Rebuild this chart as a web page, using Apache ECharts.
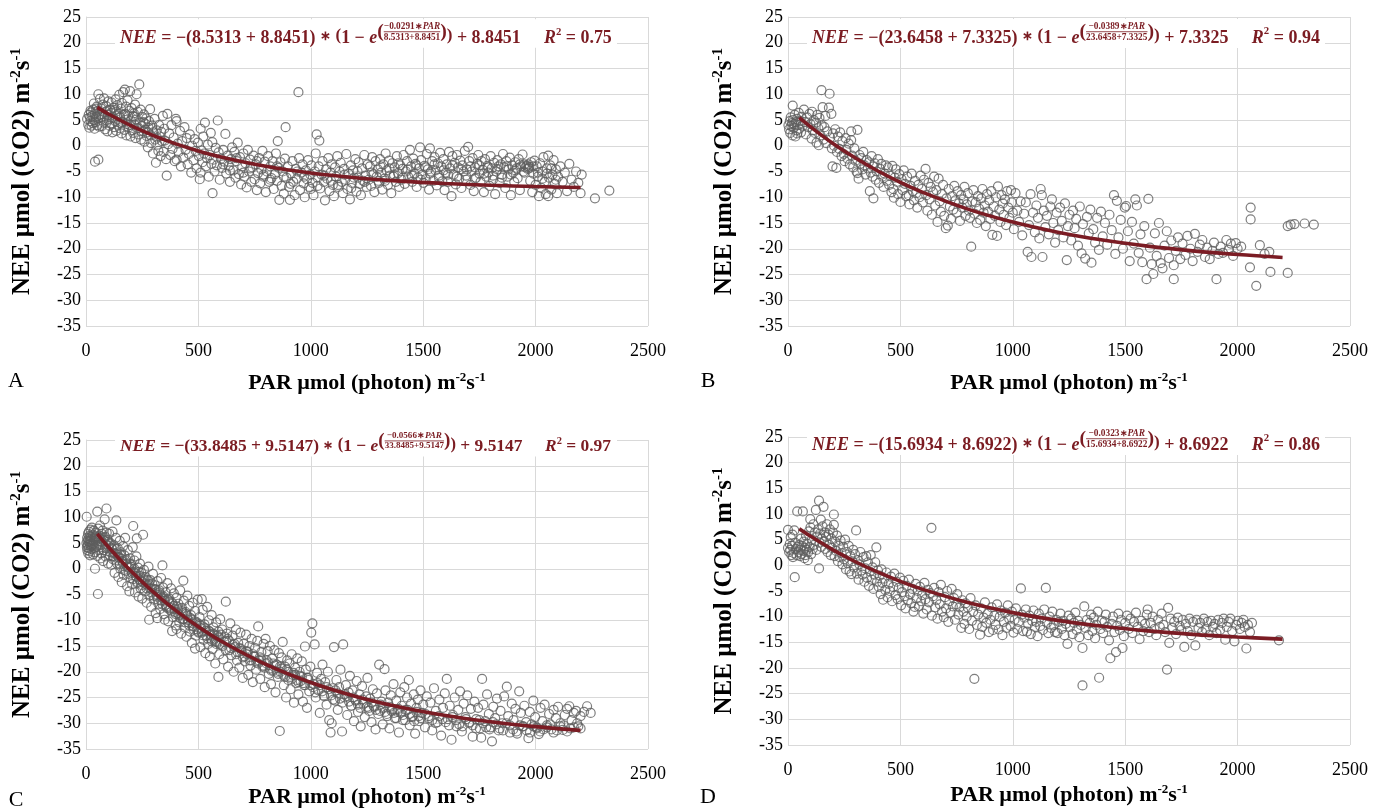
<!DOCTYPE html>
<html><head><meta charset="utf-8">
<script src="https://cdn.jsdelivr.net/npm/echarts@6/dist/echarts.min.js"></script>
<style>html,body{margin:0;padding:0;background:#fff}#c{width:1384px;height:810px}</style>
</head><body><div id="c"></div>
<script>
// ---------- DATA ----------
const xTickMin = 0, xTickMax = 2500, xTickStep = 500;
const yTickMin = -35, yTickMax = 25, yTickStep = 5;
const panelLetters = ['A', 'B', 'C', 'D'];
const xTitle = 'PAR µmol (photon) m{sup|-2}s{sup|-1}';
const yTitle = 'NEE µmol (CO2) m{sup|-2}s{sup|-1}';

// equation coefficients as printed
const eqA = {a: '8.5313', b: '8.8451', k: '0.0291', r2: '0.75'};
const eqB = {a: '23.6458', b: '7.3325', k: '0.0389', r2: '0.94'};
const eqC = {a: '33.8485', b: '9.5147', k: '0.0566', r2: '0.97'};
const eqD = {a: '15.6934', b: '8.6922', k: '0.0323', r2: '0.86'};

// fitted curves
const fitPar = [50, 100, 200, 300, 400, 500, 600, 800, 1000, 1200, 1400, 1600, 1800, 2000, 2200];
const fitA = [7.45, 6.17, 3.90, 1.98, 0.36, -1.01, -2.17, -3.98, -5.28, -6.20, -6.87, -7.34, -7.68, -7.92, -8.10];
const fitB = [5.45, 3.68, 0.45, -2.39, -4.90, -7.11, -9.06, -12.30, -14.82, -16.78, -18.31, -19.49, -20.41, -21.13, -21.69];
const fitC = [6.78, 4.21, -0.45, -4.54, -8.12, -11.27, -14.03, -18.59, -22.09, -24.79, -26.88, -28.48, -29.71, -30.66, -31.39];
const fitD = [7.13, 5.67, 3.02, 0.70, -1.34, -3.12, -4.68, -7.24, -9.21, -10.72, -11.88, -12.77, -13.45, -13.97, -14.37];

// observed points [PAR, NEE]
const obsA = [[5,5.2],[10,4.1],[12,6.0],[15,3.5],[18,5.5],[20,4.8],[22,6.5],[25,3.9],[28,5.8],[30,4.4],[32,7.0],[35,5.0],[38,3.3],[40,6.2],[42,4.6],[45,5.6],[48,7.6],[50,4.0],[52,6.8],[55,5.3],[58,3.7],[60,6.0],[40,-3.1],[55,-2.7],[55,10.0],[62,9.1],[35,8.2],
[65,5.0],[68,7.2],[70,3.8],[72,6.1],[75,8.0],[78,4.5],[80,9.2],[82,5.7],[85,3.2],[88,6.6],[90,7.7],[92,4.9],[95,2.8],[98,6.0],[100,8.6],[102,5.2],[105,3.9],[108,7.0],[110,4.3],[112,6.4],[114,8.4],[118,2.6],[120,5.6],[122,7.4],[125,3.6],[128,6.9],[130,4.8],[132,9.0],[135,2.9],[138,5.9],[140,7.9],[142,4.1],[145,6.3],[148,9.9],[150,3.4],
[152,5.5],[155,7.2],[158,2.4],[160,8.3],[162,4.6],[165,10.4],[168,6.0],[170,3.1],[173,10.9],[175,5.0],[178,7.6],[180,2.0],[183,4.2],[185,8.8],[188,5.7],[190,3.6],[193,6.8],[196,10.6],[198,1.8],[200,4.9],[203,7.3],[205,3.0],[208,5.8],[210,2.5],[213,6.3],[215,4.1],[218,8.0],[220,1.5],[222,5.1],[225,10.0],[228,3.4],[230,6.6],[233,2.2],[237,11.9],[240,4.5],[243,7.0],[245,1.2],[248,3.8],[250,5.6],[255,2.8],[258,6.1],[260,0.8],[263,4.3],[265,3.1],[268,5.3],[270,1.9],[275,-0.3],[278,3.5],[280,4.8],[285,7.1],[288,2.0],[290,0.5],[295,3.9],[298,-1.5],[300,2.6],[305,5.2],[308,1.2],[311,-3.3],[315,3.0],[318,0.2],[322,-1.0],[325,4.0],[328,1.8],[332,-2.0],[335,2.7],[338,0.9],[342,5.8],[345,-1.2],[348,3.3],[350,1.0],[356,-2.6],[359,-5.8],[362,6.2],[365,0.3],[370,2.4],[375,-1.8],[380,4.0],[385,-0.6],[390,1.6],[395,-3.0],[400,5.2],[403,4.8],[403,-2.7],[408,0.4],[412,-1.2],[418,2.9],[422,-4.0],[428,0.9],[433,-2.3],[438,3.6],[443,-0.8],[448,1.5],[452,-3.6],[458,-1.6],[462,2.2],[468,-5.2],[472,0.0],[478,-2.8],[483,1.3],[488,-1.0],[492,-4.4],[498,0.6],[502,-2.0],[506,-6.5],[510,3.3],[510,-5.2],[514,-0.9],[518,-3.2],[522,1.8],[526,-1.5],[529,4.5],[533,-4.0],[538,-2.4],[542,0.2],[546,-6.0],[550,-1.8],[555,2.5],[558,-3.5],[562,0.7],[563,-9.2],[567,-2.7],[572,-5.0],[577,-0.4],[582,-3.8],[586,4.9],[590,-1.3],[595,-6.6],[600,-2.5],[605,-4.3],[610,-0.8],[615,-3.1],[620,2.3],[624,-5.4],[630,-1.9],[635,-3.9],[640,-7.0],[645,-2.6],[650,-0.3],
[655,-4.8],[660,-1.2],[665,-6.2],[670,-3.0],[675,0.6],[680,-5.5],[685,-2.2],[690,-7.5],[695,-4.0],[700,-1.5],[705,-6.0],[710,-3.4],[715,-8.1],[720,-0.8],[725,-5.0],[730,-2.7],[735,-7.0],[740,-4.2],[745,-1.9],[750,-6.5],[755,-3.6],[760,-8.6],[765,-5.3],[770,-2.4],[775,-7.3],[780,-4.6],[785,-1.0],[790,-6.0],[795,-3.1],[800,-9.0],[805,-5.0],[810,-2.0],[815,-7.0],[820,-4.0],[825,-6.3],[830,-3.0],[835,-8.4],[840,-5.5],[845,-1.5],[850,-6.8],[853,0.9],[858,-4.3],[860,-10.5],[865,-3.2],[870,-7.8],[875,-5.0],[880,-9.3],[885,-2.5],[888,3.6],[892,-6.2],[898,-4.0],[903,-8.0],[907,-10.5],[912,-5.4],[918,-3.0],[922,-7.0],[928,-9.6],[933,-4.5],[938,-6.4],[945,10.4],[948,-2.4],[952,-8.6],[958,-5.2],[963,-3.6],[968,-7.3],[973,-10.0],[978,-4.8],[983,-6.5],[988,-2.8],[993,-8.0],[998,-5.6],
[1003,-3.8],[1008,-7.2],[1012,-9.6],[1018,-5.0],[1022,-1.5],[1026,2.2],[1030,-6.2],[1035,-4.0],[1038,1.0],[1042,-8.3],[1048,-5.6],[1052,-3.0],[1058,-7.0],[1063,-10.6],[1068,-4.6],[1073,-6.4],[1078,-2.4],[1083,-8.8],[1088,-5.2],[1093,-3.6],[1098,-7.6],[1103,-9.8],[1108,-4.2],[1113,-6.0],[1118,-2.0],[1123,-8.0],[1128,-5.0],[1133,-3.3],[1138,-7.0],[1143,-9.2],[1148,-4.5],[1153,-6.6],[1158,-1.6],[1163,-8.4],[1168,-5.4],[1174,-10.4],[1178,-3.8],[1183,-7.2],[1188,-4.8],[1193,-6.2],[1198,-2.6],[1203,-8.9],[1208,-5.0],[1213,-3.2],[1218,-7.4],[1223,-9.6],[1228,-4.4],[1233,-6.8],[1238,-1.8],[1243,-5.8],[1248,-8.0],[1253,-3.6],[1258,-6.6],[1263,-4.0],[1268,-7.8],[1273,-2.2],[1278,-5.5],[1283,-9.0],[1288,-3.0],[1293,-6.0],[1298,-4.6],
[1303,-7.2],[1308,-2.6],[1313,-5.2],[1318,-8.5],[1323,-3.6],[1328,-6.4],[1333,-1.5],[1338,-4.8],[1343,-7.6],[1348,-2.9],[1353,-5.8],[1358,-9.2],[1363,-3.4],[1368,-6.0],[1373,-4.2],[1378,-7.0],[1383,-2.0],[1388,-5.3],[1393,-8.0],[1398,-3.8],[1403,-6.6],[1408,-4.5],[1413,-1.8],[1418,-7.4],[1423,-5.0],[1428,-3.0],[1433,-6.0],[1441,-0.8],[1446,-4.0],[1451,-7.0],[1456,-2.5],[1461,-5.4],[1466,-3.5],[1471,-8.0],[1476,-6.2],[1481,-4.4],[1486,-0.3],[1491,-2.8],[1496,-5.6],[1501,-7.2],[1506,-3.9],[1511,-6.5],[1516,-1.6],[1521,-4.6],[1526,-8.5],[1530,-0.5],[1535,-5.0],[1540,-3.0],[1545,-6.8],[1550,-2.2],[1555,-4.8],[1560,-7.7],[1565,-3.4],[1570,-5.8],[1575,-1.4],[1580,-4.0],[1585,-6.9],[1590,-2.6],[1595,-8.6],[1600,-5.2],[1605,-3.6],[1610,-7.0],[1615,-1.2],[1620,-4.4],[1626,-9.8],[1630,-2.0],[1635,-5.6],[1640,-3.3],[1645,-7.5],[1650,-1.8],[1655,-4.2],[1660,-6.4],[1665,-2.9],[1670,-8.2],[1675,-3.8],[1680,-5.0],[1685,-1.0],[1690,-6.6],[1695,-4.6],[1700,-0.2],
[1705,-3.0],[1710,-7.6],[1715,-5.0],[1720,-2.4],[1725,-8.8],[1730,-4.2],[1735,-6.2],[1740,-3.5],[1745,-1.8],[1750,-5.4],[1755,-7.0],[1760,-3.0],[1765,-4.7],[1770,-9.0],[1775,-2.6],[1780,-6.0],[1785,-3.9],[1790,-5.2],[1795,-7.8],[1800,-2.0],[1805,-4.4],[1810,-6.6],[1815,-3.3],[1820,-9.4],[1825,-5.0],[1830,-2.8],[1835,-4.0],[1840,-7.2],[1845,-3.6],[1850,-5.6],[1855,-1.6],[1860,-4.2],[1865,-8.2],[1870,-3.0],[1875,-6.0],[1880,-4.6],[1885,-2.3],[1890,-9.6],[1895,-3.8],[1900,-5.2],[1905,-7.0],[1910,-3.2],[1915,-4.4],[1920,-6.3],[1925,-2.6],[1930,-8.6],[1935,-4.0],[1942,-1.7],[1946,-5.0],[1950,-3.6],[1955,-4.2],[1960,-3.9],[1965,-4.5],[1968,-3.6],[1972,-4.1],[1976,-6.8],[1980,-3.2],[1985,-9.0],[1990,-5.4],[1995,-2.9],[2000,-7.6],[2005,-4.0],[2010,-6.0],[2015,-9.8],[2020,-3.4],[2025,-8.2],[2030,-5.0],[2035,-2.2],[2040,-7.0],[2045,-9.4],[2050,-4.4],[2056,-1.9],[2056,-9.8],[2060,-6.2],[2065,-3.8],[2070,-8.5],[2075,-5.6],[2080,-2.8],[2085,-7.4],[2090,-4.6],[2095,-9.2],[2100,-6.0],
[2110,-4.0],[2120,-7.0],[2130,-5.2],[2140,-8.8],[2150,-3.5],[2160,-6.6],[2170,-8.0],[2180,-5.0],[2190,-7.2],[2200,-9.2],[2205,-5.6],[2264,-10.2],[2328,-8.7],
[20,6.8],[45,7.2],[70,5.6],[95,6.8],[115,5.4],[135,6.6],[155,4.4],[175,6.2],[195,4.0],[215,5.6],[235,3.4],[255,4.6],[275,2.6],[295,3.4],[315,1.6],
[610,-3.6],[640,-4.8],[670,-2.4],[700,-5.2],[730,-4.4],[760,-3.0],[790,-5.6],[820,-6.6],[850,-4.0],[880,-6.0],[910,-7.4],[940,-5.0],[970,-6.0],[1000,-8.4],[1030,-7.8],[1060,-5.8],[1090,-6.8],[1120,-7.6],[1150,-5.6],[1180,-8.2],[1210,-6.2],[1240,-7.0],[1270,-5.2],[1300,-6.8],
[1310,-4.0],[1330,-6.8],[1350,-4.4],[1370,-5.6],[1390,-3.4],[1410,-6.2],[1430,-4.6],[1450,-5.8],[1470,-3.8],[1490,-6.6],[1510,-4.2],[1530,-5.4],[1550,-3.6],[1570,-6.2],[1590,-4.8],[1610,-5.6],[1630,-3.8],[1650,-6.0],[1670,-4.6],[1690,-5.8],[1710,-4.0],[1730,-6.4],[1750,-3.8],[1770,-5.4],[1790,-4.2],[1810,-5.8],[1830,-4.6],[1850,-6.2],[1870,-4.0],[1890,-5.6],[1910,-4.8],[1930,-3.6],[1950,-5.2],[1970,-4.4],[1990,-4.0],[2010,-5.2],[2030,-6.4],[2050,-5.4],[2070,-4.4],[2090,-6.6]];

const obsB = [[2,4.0],[5,3.2],[8,4.8],[10,2.5],[12,5.5],[15,3.8],[18,4.4],[20,2.0],[21,7.8],[22,5.0],[25,3.5],[28,4.2],[30,6.0],[33,1.8],[35,4.6],[38,3.0],[40,5.2],[41,2.4],[45,4.0],[48,6.4],[50,3.3],[55,4.8],[58,2.6],[60,5.6],
[65,3.9],[71,7.0],[75,4.6],[80,2.2],[85,5.5],[90,3.6],[95,6.2],[100,4.2],[105,1.4],[107,6.6],[110,3.0],[115,5.0],[120,2.5],[125,4.5],[127,0.6],[130,6.0],[135,3.4],[137,0.1],[140,5.4],[145,2.0],[149,10.8],[150,4.0],[154,7.5],[158,1.2],[162,3.6],[166,5.8],[170,0.5],[175,2.8],[182,7.4],[185,10.1],[188,1.6],[193,6.2],[195,-0.5],[198,-4.0],[200,2.4],
[205,0.0],[210,3.2],[215,-4.3],[218,-1.2],[222,1.8],[228,-0.6],[232,2.6],[238,-2.0],[242,0.9],[248,-1.6],[252,-3.0],[256,1.5],[260,-0.8],[265,-2.5],[270,0.4],[275,-3.6],[281,2.8],[281,1.1],[285,-1.9],[290,-4.2],[295,-0.5],[300,-2.9],[305,-5.0],[309,3.1],[309,-5.3],[314,-6.4],[318,-1.8],[322,-3.5],[326,-2.4],[330,-4.6],[335,-1.2],[340,-3.8],[345,-5.6],[350,-2.8],[355,-4.4],[360,-3.2],[364,-8.8],[368,-5.2],[372,-2.0],[376,-6.0],[380,-10.2],[380,-4.0],[385,-3.4],[390,-6.6],[395,-5.0],[400,-2.6],[405,-7.2],[410,-4.5],[415,-3.5],[420,-6.0],[425,-8.0],[430,-5.4],[435,-3.8],[440,-6.8],[445,-4.2],[450,-7.6],[455,-5.8],[460,-9.0],[464,-3.9],[468,-8.4],[471,-10.1],[475,-6.2],[480,-4.6],[485,-7.0],[490,-9.4],[495,-5.5],[500,-10.9],
[505,-6.5],[510,-8.6],[515,-4.8],[520,-7.4],[525,-9.8],[530,-6.0],[537,-9.6],[540,-11.4],[545,-7.8],[550,-5.4],[555,-8.8],[560,-10.6],[565,-6.8],[570,-9.2],[575,-12.0],[580,-7.6],[585,-10.0],[590,-5.8],[595,-8.4],[600,-11.0],[605,-6.6],[612,-4.5],[615,-9.6],[620,-12.6],[625,-7.2],[630,-10.4],[635,-8.0],[640,-13.4],[645,-9.0],[650,-6.0],[655,-11.6],[660,-8.6],[665,-14.8],[670,-6.4],[675,-10.8],[680,-12.8],[685,-9.4],[690,-7.6],[695,-13.6],[702,-16.0],[705,-10.2],[711,-15.5],[715,-8.4],[720,-11.8],[725,-14.2],[730,-9.8],[735,-12.4],[740,-7.8],[745,-10.6],[750,-13.0],[755,-8.8],[760,-11.2],[765,-14.6],[770,-9.6],[775,-12.0],[780,-10.4],[785,-8.0],[790,-13.6],[795,-11.4],[800,-9.2],[805,-12.6],[810,-14.0],[815,-19.6],[820,-10.8],[825,-8.6],[830,-13.2],[835,-11.0],[840,-15.0],[845,-9.8],[850,-12.2],[855,-14.4],[860,-10.2],[865,-8.4],[870,-13.0],[875,-11.6],[880,-15.6],[885,-9.4],[890,-12.8],[895,-10.6],[900,-14.2],[905,-8.8],[909,-17.3],[915,-11.8],[920,-13.6],[925,-10.0],[930,-17.5],[934,-7.9],[940,-12.4],[945,-14.8],[950,-9.6],[955,-11.2],[960,-13.4],[965,-10.4],[970,-15.4],[975,-8.8],[980,-12.0],[985,-14.0],[992,-8.6],[995,-11.0],[1000,-13.0],
[1005,-16.2],[1012,-9.2],[1020,-12.6],[1028,-14.8],[1035,-10.8],[1042,-17.4],[1050,-13.2],[1058,-11.0],[1066,-20.6],[1072,-15.4],[1079,-9.4],[1083,-21.6],[1090,-13.0],[1098,-16.8],[1105,-11.6],[1112,-14.0],[1118,-18.0],[1124,-8.4],[1129,-9.6],[1132,-21.6],[1138,-12.6],[1145,-15.8],[1152,-13.6],[1160,-17.2],[1167,-11.8],[1174,-10.4],[1180,-15.0],[1188,-18.8],[1195,-13.0],[1202,-16.4],[1210,-12.0],[1218,-14.6],[1225,-17.8],[1232,-11.2],[1240,-22.2],[1245,-15.6],[1252,-13.4],[1260,-18.4],[1268,-12.6],[1275,-16.0],[1282,-14.2],[1290,-19.4],[1298,-11.8],[1306,-20.9],[1312,-15.2],[1322,-21.9],[1330,-13.8],[1338,-17.0],[1345,-12.4],[1350,-22.7],[1358,-16.2],[1366,-18.8],[1375,-14.0],[1383,-20.2],[1392,-12.8],[1400,-17.6],[1410,-15.0],[1420,-19.2],[1430,-13.4],[1440,-16.4],[1450,-9.6],[1456,-21.0],[1463,-10.7],[1470,-17.8],[1480,-14.4],[1490,-20.0],[1498,-12.0],[1504,-11.7],
[1512,-16.6],[1520,-22.4],[1530,-14.8],[1538,-19.0],[1545,-10.4],[1552,-11.6],[1560,-20.8],[1568,-17.2],[1576,-22.6],[1585,-15.6],[1595,-25.9],[1603,-10.3],[1610,-19.8],[1618,-23.0],[1625,-24.9],[1632,-17.0],[1640,-21.4],[1650,-15.0],[1658,-22.8],[1666,-23.8],[1675,-19.4],[1685,-16.6],[1695,-21.8],[1705,-18.4],[1716,-25.9],[1716,-23.2],[1725,-20.4],[1735,-17.8],[1745,-22.0],[1755,-19.0],[1768,-21.2],[1777,-17.5],[1790,-20.0],[1800,-22.4],[1810,-17.1],[1822,-20.6],[1832,-19.2],[1843,-18.3],[1855,-21.6],[1865,-19.8],[1876,-22.0],[1888,-20.4],[1895,-18.8],[1906,-25.9],[1915,-21.0],[1925,-19.6],[1935,-20.8],[1950,-18.3],[1960,-20.2],[1970,-19.0],[1980,-21.4],[1992,-18.9],[2000,-20.0],[2016,-19.6],
[2055,-23.6],[2058,-12.0],[2058,-14.3],[2083,-27.2],[2099,-19.3],[2120,-21.0],[2141,-20.6],[2146,-24.5],[2223,-24.7],[2223,-15.6],[2236,-15.3],[2253,-15.2],[2298,-15.1],[2339,-15.3]];

const obsC = [[2,5.0],[3,10.1],[4,4.2],[5,6.0],[6,3.6],[7,5.4],[8,4.6],[9,6.8],[10,3.0],[11,5.8],[12,4.0],[13,7.2],[14,5.2],[15,3.4],[16,6.4],[17,4.8],[18,2.6],[19,5.6],[20,7.6],[21,4.4],[22,6.2],[24,3.8],[25,5.0],[26,8.0],[28,4.5],[30,6.6],[32,2.8],[34,5.4],[35,7.4],[36,4.0],[38,6.0],[40,0.0],[40,3.2],[42,5.5],[44,7.0],[46,4.3],[48,6.3],[50,11.1],[50,2.5],[52,5.0],[53,-4.9],[54,7.8],[56,3.6],[58,6.0],[60,4.6],[62,8.4],[64,2.0],[66,5.4],[68,3.0],[70,6.8],[72,4.2],[74,7.4],[76,1.5],[78,5.6],[80,3.6],[83,9.6],[85,6.2],[87,2.4],[89,4.8],[91,11.7],[92,7.0],[94,3.4],[96,5.6],[98,1.0],[100,4.4],
[103,6.8],[106,2.6],[109,5.0],[112,0.8],[115,3.8],[118,7.2],[121,1.8],[124,4.6],[127,-0.8],[130,3.0],[133,6.0],[135,9.4],[138,1.0],[141,4.0],[144,-1.6],[147,2.2],[150,5.4],[153,0.0],[156,3.2],[159,-2.6],[162,1.4],[165,4.4],[168,-1.2],[171,2.6],[174,6.0],[177,-0.4],[180,1.8],[183,-3.4],[186,3.6],[189,0.4],[193,-4.4],[196,2.0],[199,-1.8],[202,0.8],[205,-3.0],[208,4.2],[210,8.3],[212,-0.6],[215,1.6],[218,-4.6],[221,-1.4],[224,2.4],[226,5.9],[228,-2.8],[231,0.2],[234,-5.4],[237,-2.0],[240,1.0],[243,-3.8],[246,-0.8],[250,-5.8],[254,6.6],[254,-2.6],[258,-0.2],[262,-4.4],[266,-1.6],[270,-6.6],[274,-3.2],[278,0.4],[281,-9.9],[282,-5.2],[286,-2.2],[290,-7.4],[294,-4.0],[298,-1.0],
[302,-6.0],[306,-3.2],[310,-8.6],[314,-5.0],[317,-9.6],[318,-2.4],[322,-6.8],[326,-4.2],[330,-7.8],[334,-1.8],[338,-5.6],[340,0.65],[342,-3.6],[346,-8.8],[350,-9.9],[350,-6.2],[354,-4.6],[358,-7.4],[362,-2.8],[366,-10.2],[370,-5.8],[374,-8.0],[378,-3.8],[383,-12.1],[383,-6.6],[387,-9.4],[391,-4.8],[395,-7.8],[399,-11.0],[403,-11.7],[403,-5.6],[407,-8.6],[411,-6.8],[415,-10.4],[419,-4.2],[423,-12.6],[427,-7.6],[431,-9.8],[433,-2.3],[435,-6.2],[439,-11.4],[443,-8.4],[447,-13.2],[451,-5.2],[455,-10.0],[459,-7.2],[463,-12.2],[467,-9.0],[471,-14.4],[475,-6.6],[479,-11.2],[485,-15.5],[485,-8.2],[489,-13.0],[493,-10.4],[497,-6.0],[501,-12.4],[505,-9.4],[509,-15.2],[513,-11.6],[515,-5.9],[519,-8.0],[523,-13.8],[527,-10.8],[531,-16.4],[535,-12.0],[539,-7.4],[543,-14.6],[547,-10.0],[551,-17.0],[555,-12.8],[559,-9.0],[563,-15.6],[567,-11.4],[571,-13.6],[575,-18.4],[579,-10.4],[583,-14.2],[589,-21.0],[589,-12.2],[593,-16.6],[597,-9.8],
[601,-14.8],[606,-11.8],[611,-17.6],[616,-13.2],[622,-6.4],[622,-15.8],[627,-12.6],[632,-19.0],[637,-14.0],[642,-10.6],[647,-16.8],[652,-13.0],[657,-20.0],[662,-15.2],[667,-11.8],[672,-17.8],[677,-14.4],[682,-19.2],[687,-12.4],[692,-16.0],[697,-21.2],[702,-14.6],[707,-18.0],[712,-12.8],[717,-16.6],[722,-20.6],[727,-15.0],[732,-18.8],[737,-13.6],[742,-22.0],[747,-17.0],[752,-15.4],[757,-19.6],[762,-14.0],[766,-11.2],[770,-17.8],[775,-21.4],[780,-16.2],[785,-19.0],[790,-14.6],[795,-23.0],[799,-13.6],[803,-18.4],[808,-16.0],[813,-20.4],[818,-15.0],[823,-22.4],[828,-17.4],[833,-19.8],[838,-15.8],[843,-24.0],[848,-18.6],[853,-21.0],[858,-16.4],[862,-31.5],[865,-20.0],[870,-17.2],[875,-14.2],[880,-22.6],[885,-19.0],[890,-25.0],[895,-17.8],[900,-21.6],[905,-18.4],[910,-23.4],[915,-16.6],[920,-20.6],[925,-26.0],[930,-19.2],[935,-22.2],[940,-17.4],[945,-24.4],[950,-20.0],[955,-21.8],[960,-18.0],[965,-25.8],[970,-22.6],[974,-15.1],[978,-19.6],[983,-27.0],[988,-21.2],[993,-23.8],[998,-19.0],
[1002,-12.4],[1007,-10.6],[1012,-22.4],[1017,-14.7],[1022,-25.0],[1028,-20.2],[1034,-23.6],[1040,-28.0],[1046,-21.4],[1052,-18.6],[1058,-24.6],[1064,-22.0],[1070,-26.4],[1076,-20.0],[1082,-29.4],[1088,-31.8],[1093,-30.0],[1098,-23.2],[1103,-15.2],[1108,-25.6],[1114,-21.6],[1120,-27.4],[1126,-23.0],[1132,-19.6],[1139,-31.6],[1144,-14.7],[1150,-25.0],[1156,-22.6],[1162,-28.4],[1168,-24.0],[1174,-20.8],[1180,-26.6],[1186,-23.6],[1192,-29.6],[1198,-25.4],[1204,-21.8],[1210,-27.8],[1216,-24.4],[1222,-30.6],[1228,-22.8],[1234,-26.2],[1240,-28.8],[1246,-24.8],[1252,-21.2],[1258,-27.0],[1264,-25.2],[1270,-29.8],[1276,-23.4],[1282,-26.8],[1288,-31.2],[1294,-24.2],[1304,-18.6],[1308,-27.6],[1314,-25.8],[1320,-30.2],[1328,-19.5],[1332,-23.6],[1338,-28.2],[1344,-26.0],[1350,-31.0],[1356,-24.6],[1362,-27.2],[1368,-22.4],[1374,-29.0],[1380,-25.6],[1386,-27.8],[1392,-31.8],[1398,-24.0],[1404,-26.6],[1410,-29.4],[1416,-23.0],[1422,-27.4],[1428,-25.0],[1436,-21.6],[1440,-30.4],[1446,-26.2],[1452,-28.6],[1458,-24.4],[1464,-32.0],[1470,-27.0],[1476,-25.4],[1482,-29.6],[1488,-23.6],[1494,-28.0],
[1500,-26.4],[1508,-30.8],[1516,-24.8],[1524,-28.6],[1532,-26.0],[1540,-31.4],[1548,-23.2],[1556,-27.6],[1564,-29.8],[1572,-25.4],[1580,-32.4],[1588,-27.0],[1596,-24.2],[1605,-21.4],[1610,-29.2],[1618,-26.6],[1626,-33.2],[1632,-28.4],[1640,-25.0],[1648,-30.6],[1656,-27.4],[1664,-23.8],[1672,-31.6],[1680,-26.2],[1688,-28.8],[1696,-24.6],[1704,-30.0],[1712,-27.2],[1720,-32.6],[1728,-25.8],[1736,-29.2],[1744,-27.0],[1752,-31.0],[1758,-32.8],[1762,-21.4],[1768,-26.4],[1776,-29.6],[1784,-24.4],[1792,-28.2],[1800,-30.8],[1806,-33.5],[1812,-26.8],[1820,-29.0],[1828,-25.2],[1836,-31.4],[1844,-27.6],[1852,-30.0],[1860,-24.8],[1872,-22.9],[1878,-28.6],[1886,-31.8],[1894,-26.2],[1902,-29.4],[1910,-27.2],[1918,-32.0],[1927,-23.8],[1934,-28.0],[1942,-30.6],[1950,-26.6],[1958,-29.8],[1968,-32.9],[1974,-27.8],[1982,-30.2],[1990,-25.6],[1998,-28.8],[2006,-31.0],[2014,-32.1],[2022,-27.0],[2030,-29.6],[2040,-26.4],[2050,-30.4],[2060,-28.2],[2070,-31.2],[2080,-27.4],[2090,-29.0],[2100,-26.8],[2110,-30.0],[2121,-31.3],[2130,-28.4],[2140,-27.2],[2150,-26.7],[2160,-29.4],[2170,-28.0],[2180,-27.6],[2190,-30.6],[2200,-28.6],[2215,-27.8],[2229,-26.7],[2245,-28.0],
[110,3.2],[120,2.4],[130,1.6],[140,2.8],[150,0.9],[160,1.9],[170,-0.2],[180,0.8],[190,-1.0],[200,0.4],[210,-2.0],[220,-0.9],[230,-2.6],[240,-1.4],[250,-3.2],[260,-2.2],[270,-3.8],[280,-3.0],[290,-4.6],
[300,-5.2],[310,-4.0],[320,-6.0],[330,-5.0],[340,-6.9],[350,-5.8],[360,-7.6],[370,-6.4],[380,-8.3],[390,-7.2],[400,-8.8],[410,-7.9],[420,-9.6],[430,-8.6],[440,-10.4],[450,-9.2],[460,-11.0],[470,-9.9],[480,-11.8],[490,-10.6],[500,-12.2],[510,-11.0],[520,-12.9],[530,-11.6],[540,-13.5],[550,-12.2],[560,-14.1],[570,-12.8],[580,-14.6],[590,-13.3],
[600,-12.8],[615,-14.2],[630,-13.6],[645,-15.4],[660,-14.6],[675,-16.2],[690,-15.6],[705,-17.0],[720,-16.2],[735,-17.8],[750,-17.0],[765,-18.4],[780,-17.6],[795,-19.2],[810,-18.2],[825,-19.8],[840,-18.8],[855,-20.4],[870,-19.4],[885,-21.0],[900,-20.0],[915,-21.4],[930,-20.6],[945,-22.0],[960,-21.0],[975,-22.6],[990,-21.6],
[1010,-23.0],[1030,-22.2],[1050,-23.8],[1070,-23.0],[1090,-24.6],[1110,-23.6],[1130,-25.2],[1150,-24.4],[1170,-25.8],[1190,-25.0],[1210,-26.4],[1230,-25.4],[1250,-26.8],[1270,-26.0],[1290,-27.4],[1310,-26.4],[1330,-27.8],[1350,-26.8],[1370,-28.0],[1390,-27.2],[1410,-28.4],[1430,-27.4],[1450,-28.8],[1470,-27.8],[1490,-29.0],
[1510,-28.2],[1540,-29.4],[1570,-28.6],[1600,-29.8],[1630,-28.8],[1660,-30.2],[1690,-29.2],[1720,-30.4],[1750,-29.4],[1780,-30.8],[1810,-29.8],[1840,-31.0],[1870,-30.0],[1900,-31.2],[1930,-30.4],[1960,-31.4],[1990,-30.6],[2020,-31.6],[2050,-30.8],[2080,-31.8],[2110,-30.6],[2140,-31.6],[2170,-30.8],[2200,-31.0],
[20,5.4],[30,4.8],[40,5.8],[50,4.6],[60,6.4],[70,5.2],[80,6.0],[90,4.0],[100,5.2],
[105,4.8],[115,4.0],[125,3.0],[135,3.8],[145,2.2],[155,2.8],[165,1.0],[175,1.6],[185,0.2],[195,1.0],[205,-0.8],[215,0.0],[225,-1.6],[235,-0.6],[245,-2.4],[255,-1.6],[265,-3.0],[275,-2.2],[285,-3.8],[295,-3.0],
[305,-4.0],[315,-5.4],[325,-4.6],[335,-6.2],[345,-5.4],[355,-7.0],[365,-6.0],[375,-7.6],[385,-6.8],[395,-8.4],[405,-7.4],[415,-9.0],[425,-8.2],[435,-9.8],[445,-8.8],[455,-10.4],[465,-9.6],[475,-11.2],[485,-10.2],[495,-11.8],[505,-10.8],[515,-12.4],[525,-11.4],[535,-13.0],[545,-12.0],[555,-13.6],[565,-12.6],[575,-14.2],[585,-13.0],[595,-14.6],
[608,-15.0],[623,-14.0],[638,-15.8],[653,-14.8],[668,-16.6],[683,-15.4],[698,-17.2],[713,-16.0],[728,-17.8],[743,-16.6],[758,-18.2],[773,-17.2],[788,-18.8],[803,-17.8],[818,-19.4],[833,-18.4],[848,-20.0],[863,-19.0],[878,-20.6],[893,-19.6],[908,-21.0],[923,-20.2],[938,-21.6],[953,-20.8],[968,-22.2],[983,-21.2],[998,-22.6],
[1020,-24.0],[1040,-22.6],[1060,-24.8],[1080,-23.4],[1100,-25.4],[1120,-24.2],[1140,-26.0],[1160,-24.8],[1180,-26.6],[1200,-25.6],[1220,-27.0],[1240,-26.0],[1260,-27.6],[1280,-26.6],[1300,-28.2],[1320,-27.0],[1340,-28.6],[1360,-27.6],[1380,-29.0],[1400,-28.0],[1420,-29.4],[1440,-28.2],[1460,-29.6],[1480,-28.6],
[1525,-29.0],[1555,-30.0],[1585,-29.2],[1615,-30.4],[1645,-29.4],[1675,-30.6],[1705,-29.8],[1735,-31.0],[1765,-30.0],[1795,-31.2],[1825,-30.2],[1855,-31.4],[1885,-30.4],[1915,-31.6],[1945,-30.6],[1975,-31.8],[2005,-30.8],[2035,-31.2],[2065,-30.2],[2095,-31.4],[2125,-30.4],[2155,-31.0],[2185,-30.0]];

const obsD = [[0,6.9],[0,3.4],[5,2.6],[8,4.2],[10,3.0],[12,5.5],[15,2.0],[18,3.8],[20,6.0],[22,1.6],[25,2.4],[28,6.8],[30,-2.3],[32,4.4],[35,3.2],[38,2.0],[41,10.5],[44,3.6],[47,2.6],[50,4.0],[53,1.8],[56,3.0],[58,5.2],[60,2.2],[62,3.8],[66,10.5],[68,2.8],[70,4.6],[73,1.4],[75,3.4],[78,2.0],[80,5.8],[82,3.0],[85,4.2],[88,1.0],[90,2.6],[93,6.6],[96,3.6],[99,9.0],[100,7.4],[103,2.2],[106,5.0],[110,3.2],[113,8.0],[116,4.0],[120,6.4],[124,10.8],[126,3.0],[130,5.6],[134,7.0],[138,12.6],[138,-0.6],[140,4.4],[143,6.2],[146,8.9],[148,3.6],[150,5.2],
[154,7.6],[158,11.4],[160,4.6],[163,6.4],[166,3.2],[170,5.6],[173,8.0],[176,2.6],[180,6.0],[183,4.0],[186,7.0],[190,2.0],[193,5.2],[196,3.4],[200,6.4],[204,9.9],[204,7.9],[207,1.8],[210,4.6],[214,2.8],[218,5.8],[222,0.8],[226,3.8],[230,1.6],[234,4.8],[238,2.4],[242,0.2],[246,3.6],[250,1.2],[254,5.0],[258,-0.8],[262,2.6],[266,0.4],[270,3.8],[274,-1.2],[278,1.8],[282,-1.7],[286,0.8],[290,3.0],[294,-0.4],[298,2.2],[303,6.8],[306,-1.6],[310,1.0],[314,-2.8],[318,0.2],[322,2.6],[326,-1.0],[332,-1.8],[336,1.6],[340,-3.2],[344,-0.6],[348,1.8],[352,-2.4],[356,0.6],[360,-4.0],[364,-1.2],[368,2.0],[372,-2.8],[376,-0.4],[380,-4.6],[384,-1.8],[388,0.6],[393,3.5],[396,-3.2],[400,-1.0],
[404,-4.2],[408,-2.0],[412,-5.6],[416,-0.8],[420,-3.4],[423,-6.7],[428,-2.6],[433,-4.8],[438,-1.4],[443,-6.2],[448,-3.6],[453,-5.0],[458,-2.2],[463,-7.0],[468,-4.2],[473,-1.6],[478,-5.8],[483,-3.2],[488,-6.6],[493,-4.4],[498,-2.4],[503,-7.8],[508,-5.2],[513,-3.0],[518,-6.0],[523,-8.4],[528,-4.0],[533,-6.8],[538,-2.8],[543,-5.6],[548,-7.4],[553,-4.6],[558,-9.0],[564,-8.1],[568,-3.6],[572,-6.4],[577,-5.0],[582,-8.0],[587,-4.2],[592,-7.0],[597,-5.8],[602,-9.4],[607,-3.4],[612,-6.6],[617,-8.6],[622,-4.8],[627,-7.2],[632,-5.4],[638,7.3],[640,-9.8],[645,-6.0],[650,-4.4],[655,-8.2],[660,-6.8],[665,-10.4],[670,-5.2],[675,-7.6],[680,-3.8],[685,-9.0],[693,-10.1],[698,-6.2],[703,-8.4],[708,-5.0],[713,-11.0],[718,-7.0],[723,-9.2],[728,-4.6],[733,-8.0],[738,-6.4],[743,-10.6],[748,-7.6],[753,-5.6],[758,-9.6],[763,-8.2],[771,-12.2],[775,-6.8],[780,-9.0],[785,-11.4],[790,-7.4],[795,-10.0],
[800,-8.2],[806,-12.4],[812,-6.4],[818,-10.8],[824,-9.0],[829,-22.1],[834,-7.8],[840,-11.6],[846,-9.6],[854,-13.5],[858,-8.4],[864,-12.0],[870,-10.2],[876,-7.2],[882,-11.2],[888,-9.4],[894,-13.0],[900,-10.6],[906,-8.2],[912,-12.6],[918,-9.8],[924,-11.6],[930,-7.6],[937,-12.5],[942,-10.0],[948,-8.8],[954,-13.6],[960,-11.0],[966,-9.2],[972,-12.2],[978,-7.8],[984,-10.4],[990,-11.8],[996,-9.0],[1003,-13.1],[1008,-10.6],[1014,-8.4],[1020,-12.4],[1026,-11.0],[1036,-4.5],[1040,-9.6],[1046,-12.8],[1052,-10.2],[1058,-8.6],[1063,-12.9],[1068,-11.4],[1074,-9.8],[1080,-13.4],[1086,-10.8],[1092,-8.8],[1098,-12.0],[1104,-11.0],[1110,-13.8],[1116,-9.4],[1122,-11.8],[1128,-10.4],[1134,-12.6],[1140,-8.6],[1147,-4.4],[1152,-11.2],[1158,-13.2],[1164,-10.0],[1170,-12.2],[1176,-9.0],[1182,-11.6],[1188,-13.0],[1194,-10.6],[1199,-13.2],[1205,-11.0],[1212,-9.4],[1218,-12.4],[1224,-10.8],[1230,-13.6],[1236,-11.4],[1243,-15.3],[1248,-9.8],[1254,-12.0],[1260,-10.4],[1266,-13.4],[1272,-11.2],[1278,-9.2],[1284,-12.6],[1290,-10.8],[1296,-14.0],
[1302,-11.6],[1310,-16.1],[1310,-23.4],[1318,-8.0],[1324,-12.2],[1330,-10.6],[1336,-13.6],[1342,-11.2],[1348,-9.6],[1354,-12.8],[1360,-10.2],[1366,-14.2],[1372,-11.6],[1378,-9.0],[1384,-21.9],[1390,-12.4],[1396,-10.8],[1402,-13.2],[1408,-11.0],[1414,-9.6],[1420,-12.0],[1428,-14.6],[1434,-18.1],[1440,-11.4],[1446,-10.0],[1452,-13.0],[1459,-16.9],[1464,-11.8],[1470,-9.4],[1476,-12.6],[1482,-10.6],[1488,-16.1],[1494,-13.8],[1500,-11.2],[1508,-9.8],[1516,-12.4],[1524,-10.4],[1532,-13.2],[1540,-11.0],[1548,-9.2],[1556,-12.0],[1564,-14.4],[1572,-10.8],[1580,-12.8],[1588,-11.4],[1596,-9.6],[1600,-8.6],[1606,-13.0],[1614,-11.2],[1622,-10.0],[1630,-12.4],[1638,-13.6],[1646,-10.6],[1654,-12.0],[1662,-9.4],[1670,-11.6],[1678,-13.0],[1686,-20.3],[1691,-8.3],[1696,-15.1],[1702,-10.4],[1710,-12.2],[1718,-11.0],[1726,-13.4],[1734,-10.2],[1742,-11.8],[1750,-12.6],[1756,-10.6],[1763,-15.9],[1770,-11.4],[1778,-12.8],[1786,-10.4],[1794,-13.6],[1802,-11.0],[1812,-15.6],[1818,-10.6],[1826,-12.2],[1834,-11.2],[1842,-13.0],[1850,-10.4],[1858,-12.4],[1866,-11.0],[1874,-13.6],[1882,-10.8],[1890,-12.0],[1898,-11.4],[1906,-13.2],[1914,-10.6],[1922,-12.6],[1930,-11.2],[1938,-10.4],[1945,-14.5],[1952,-12.0],[1960,-11.0],[1968,-10.4],[1976,-12.8],[1986,-14.8],[1994,-11.6],[2002,-10.8],[2010,-12.4],[2018,-11.2],[2026,-10.6],[2032,-12.0],[2039,-16.2],[2046,-11.6],[2055,-13.0],[2064,-11.2],[2184,-14.6]];

// ---------- LAYOUT / STYLE ----------
const FONT = '"Liberation Serif","Times New Roman",serif';
const EQ_COLOR = '#7b1c22';
const LINE_COLOR = '#7b1c24';
const GRID_COLOR = '#d9d9d9';
const panels = [
  {obs: obsA, fit: fitA, eq: eqA, grid: {left: 86, top: 17, width: 562, height: 309}, eqX: [120, 612], eqY: 38, letterPos: [16, 381], titleGap: 45},
  {obs: obsB, fit: fitB, eq: eqB, grid: {left: 788, top: 17, width: 562, height: 309}, eqX: [812, 1320], eqY: 38, letterPos: [708, 381], titleGap: 45},
  {obs: obsC, fit: fitC, eq: eqC, grid: {left: 86, top: 440, width: 562, height: 312}, eqX: [120, 612], eqY: 447, letterPos: [16, 800], titleGap: 36},
  {obs: obsD, fit: fitD, eq: eqD, grid: {left: 788, top: 437, width: 562, height: 308}, eqX: [812, 1320], eqY: 445, letterPos: [708, 797], titleGap: 38}
];

const mctx = document.createElement('canvas').getContext('2d');
function tw(text, size, weight, style) {
  mctx.font = (style || 'normal') + ' ' + (weight || 'normal') + ' ' + size + 'px ' + FONT;
  return mctx.measureText(text).width;
}

function equationParts(eq, f) {
  const parts = []; let x = 0;
  function put(text, size, italic, dy) {
    parts.push({type: 'text', x: x, dy: dy, text: text, size: size, italic: italic});
    x += tw(text, size, 'bold', italic ? 'italic' : 'normal');
  }
  put('NEE', f, true, 0);
  put(' = −(' + eq.a + ' + ' + eq.b + ') ', f, false, 0);
  put('∗', f * 0.7, false, -0.05 * f);
  put(' ', f, false, 0);
  put('(', f * 0.95, false, -0.14 * f);
  put('1 − ', f, false, 0);
  put('e', f, true, 0);
  const fs = f * 0.52;
  put('(', f * 1.1, false, -0.34 * f);
  const n1 = '−' + eq.k + '∗', n2 = 'PAR', den = eq.a + '+' + eq.b;
  const nw = tw(n1, fs, 'bold') + tw(n2, fs, 'bold', 'italic');
  const dw = tw(den, fs, 'bold');
  const fw = Math.max(nw, dw);
  const x0 = x;
  parts.push({type: 'text', x: x0 + (fw - nw) / 2, dy: -0.66 * f, text: n1, size: fs, italic: false});
  parts.push({type: 'text', x: x0 + (fw - nw) / 2 + tw(n1, fs, 'bold'), dy: -0.66 * f, text: n2, size: fs, italic: true});
  parts.push({type: 'line', x1: x0, x2: x0 + fw, dy: -0.35 * f});
  parts.push({type: 'text', x: x0 + (fw - dw) / 2, dy: -0.05 * f, text: den, size: fs, italic: false});
  x = x0 + fw;
  put(')', f * 1.1, false, -0.34 * f);
  put(')', f * 0.95, false, -0.14 * f);
  put(' + ' + eq.b, f, false, 0);
  x += f * 1.3;
  put('R', f, true, 0);
  put('2', f * 0.6, false, -0.35 * f);
  put(' = ' + eq.r2, f, false, 0);
  return {parts: parts, width: x};
}

function equationGraphic(p) {
  const target = p.eqX[1] - p.eqX[0];
  const probe = equationParts(p.eq, 18);
  const f = 18 * target / probe.width;
  const eqp = equationParts(p.eq, f);
  const els = [{type: 'rect', silent: true, z: 20,
    shape: {x: p.eqX[0] - 5, y: p.eqY - 1.05 * f, width: target + 10, height: 1.6 * f},
    style: {fill: '#ffffff'}}];
  eqp.parts.forEach(function (q) {
    if (q.type === 'line') {
      els.push({type: 'line', silent: true, z: 21, shape: {x1: p.eqX[0] + q.x1, y1: p.eqY + q.dy, x2: p.eqX[0] + q.x2, y2: p.eqY + q.dy},
        style: {stroke: EQ_COLOR, lineWidth: 0.8}});
    } else {
      els.push({type: 'text', silent: true, z: 21, x: p.eqX[0] + q.x, y: p.eqY + q.dy,
        style: {text: q.text, fontFamily: FONT, fontSize: q.size, fontWeight: 'bold', fontStyle: q.italic ? 'italic' : 'normal',
          fill: EQ_COLOR, align: 'left', verticalAlign: 'middle'}});
    }
  });
  return els;
}

const xTitleStyle = {
  fontFamily: FONT, fontSize: 22, fontWeight: 'bold', color: '#000', lineHeight: 24,
  rich: {sup: {fontFamily: FONT, fontSize: 13, fontWeight: 'bold', color: '#000', verticalAlign: 'top', lineHeight: 24}}
};
const yTitleStyle = {
  fontFamily: FONT, fontSize: 25, fontWeight: 'bold', color: '#000', lineHeight: 27,
  rich: {sup: {fontFamily: FONT, fontSize: 15, fontWeight: 'bold', color: '#000', verticalAlign: 'top', lineHeight: 27}}
};

const option = {
  animation: false,
  backgroundColor: '#fff',
  grid: panels.map(function (p) { return Object.assign({containLabel: false}, p.grid); }),
  xAxis: panels.map(function (p, i) {
    return {gridIndex: i, type: 'value', min: xTickMin, max: xTickMax, interval: xTickStep,
      name: xTitle, nameLocation: 'middle', nameGap: p.titleGap, nameTextStyle: xTitleStyle,
      axisLine: {show: true, lineStyle: {color: GRID_COLOR, width: 1}}, axisTick: {show: false},
      axisLabel: {fontFamily: FONT, fontSize: 18, color: '#000', margin: 16, formatter: function (v) { return String(v); }},
      splitLine: {show: true, lineStyle: {color: GRID_COLOR, width: 1}}};
  }),
  yAxis: panels.map(function (p, i) {
    return {gridIndex: i, type: 'value', min: yTickMin, max: yTickMax, interval: yTickStep,
      name: yTitle, nameLocation: 'middle', nameRotate: 90, nameGap: 50, nameTextStyle: yTitleStyle,
      axisLine: {show: true, lineStyle: {color: GRID_COLOR, width: 1}}, axisTick: {show: false},
      axisLabel: {fontFamily: FONT, fontSize: 18, color: '#000', margin: 5, formatter: function (v) { return String(v); }},
      splitLine: {show: true, lineStyle: {color: GRID_COLOR, width: 1}}};
  }),
  series: [].concat(
    panels.map(function (p, i) {
      return {type: 'scatter', xAxisIndex: i, yAxisIndex: i, data: p.obs, symbol: 'circle', symbolSize: 9,
        itemStyle: {color: 'rgba(0,0,0,0)', borderColor: '#5e5e5e', borderWidth: 1.2}, silent: true, z: 2};
    }),
    panels.map(function (p, i) {
      return {type: 'line', xAxisIndex: i, yAxisIndex: i, data: fitPar.map(function (x, j) { return [x, p.fit[j]]; }),
        smooth: 0.35, symbol: 'none', lineStyle: {color: LINE_COLOR, width: 3.6}, silent: true, z: 3};
    })
  ),
  graphic: [].concat.apply([], panels.map(function (p, i) {
    return equationGraphic(p).concat([{type: 'text', silent: true, x: p.letterPos[0], y: p.letterPos[1],
      style: {text: panelLetters[i], fontFamily: FONT, fontSize: 22, fill: '#000', align: 'center', verticalAlign: 'middle'}}]);
  }))
};

const chart = echarts.init(document.getElementById('c'), null, {renderer: 'canvas'});
chart.setOption(option);
</script>
</body></html>
